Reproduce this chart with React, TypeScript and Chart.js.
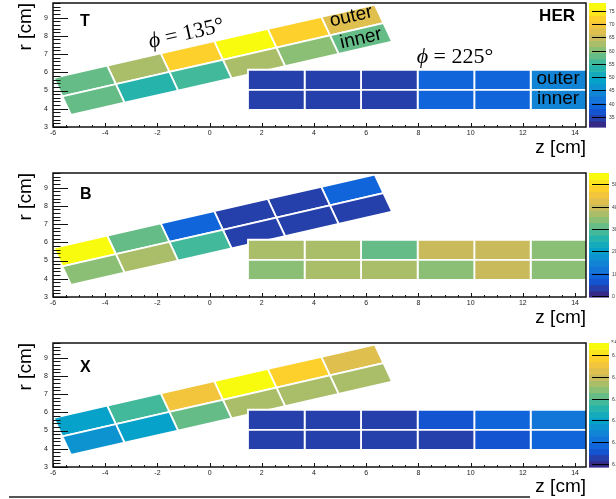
import React, { useEffect, useRef } from 'react';
import { Chart, registerables } from 'chart.js';

Chart.register(...registerables);

// ---------------- data ----------------
const zTickValues = [-6, -4, -2, 0, 2, 4, 6, 8, 10, 12, 14];
const rTickValues = [3, 4, 5, 6, 7, 8, 9];
const zRange = [-6, 14.42];
const rRange = [3, 9.8];

// phi = 225 deg module (horizontal ladder): cell edges in z and r
const flatZEdges = [1.47, 3.64, 5.8, 7.97, 10.14, 12.3, 14.47];
const flatREdges = [3.94, 5.04, 6.14];

// phi = 135 deg module (tilted ladder)
const tiltOrigin = [-5.31, 3.66];
const tiltAngleDeg = 18.1;
const tiltCellLength = 2.157;
const tiltRowWidth = 1.07;

const panelLabels = ['T', 'B', 'X'];

// panel T
const tTiltInner = [58.1, 53.4, 55.8, 62.8, 60.4, 58.0];
const tTiltOuter = [58.1, 62.8, 72.2, 77.0, 72.0, 67.5];
const tFlatInner = [34.7, 34.8, 34.6, 39.4, 39.4, 44.0];
const tFlatOuter = [34.7, 34.6, 34.8, 39.4, 39.3, 44.1];
const tColorRange = [31.2, 78.0];
const tColorTicks = [35, 40, 45, 50, 55, 60, 65, 70, 75];

// panel B
const bTiltInner = [34.2, 37.0, 28.7, 3.8, 3.7, 3.8];
const bTiltOuter = [53.6, 31.5, 9.3, 3.8, 3.7, 9.4];
const bFlatInner = [34.2, 37.0, 37.1, 34.3, 39.8, 34.1];
const bFlatOuter = [37.0, 37.1, 31.4, 39.8, 39.7, 34.2];
const bColorRange = [-0.4, 55.0];
const bColorTicks = [0, 10, 20, 30, 40, 50];

// panel X
const xTiltInner = [6.171, 6.199, 6.313, 6.37, 6.371, 6.369];
const xTiltOuter = [6.199, 6.285, 6.455, 6.541, 6.484, 6.427];
const xFlatInner = [6.029, 6.028, 6.03, 6.029, 6.057, 6.086];
const xFlatOuter = [6.029, 6.028, 6.029, 6.057, 6.086, 6.114];
const xColorRange = [5.986, 6.555];
const xColorTicks = [6.0, 6.1, 6.2, 6.3, 6.4, 6.5];

// ---------------- palette (ROOT kBird) ----------------
const birdStops = [0, 0.125, 0.25, 0.375, 0.5, 0.625, 0.75, 0.875, 1];
const birdR = [0.2082, 0.0592, 0.078, 0.0232, 0.1802, 0.5301, 0.8186, 0.9956, 0.9764];
const birdG = [0.1664, 0.3599, 0.5041, 0.6419, 0.7178, 0.7492, 0.7328, 0.7862, 0.9832];
const birdB = [0.5293, 0.8684, 0.8385, 0.7914, 0.6425, 0.4662, 0.3499, 0.1968, 0.0539];
const N_LEVELS = 20;

function bird(f: number) {
  f = Math.max(0, Math.min(1, f));
  let i = 0;
  while (i < birdStops.length - 2 && f > birdStops[i + 1]) i++;
  const t = (f - birdStops[i]) / (birdStops[i + 1] - birdStops[i]);
  const c = (a: number[]) => Math.round(255 * (a[i] + t * (a[i + 1] - a[i])));
  return `rgb(${c(birdR)},${c(birdG)},${c(birdB)})`;
}
function levelOf(v: number, range: number[]) {
  const l = Math.floor(((v - range[0]) / (range[1] - range[0])) * N_LEVELS);
  return Math.max(0, Math.min(N_LEVELS - 1, l));
}
function levelColor(i: number) {
  return bird(i / (N_LEVELS - 1));
}

const panels = [
  {
    label: panelLabels[0], tiltInner: tTiltInner, tiltOuter: tTiltOuter, flatInner: tFlatInner, flatOuter: tFlatOuter,
    colorRange: tColorRange, colorTicks: tColorTicks, fmt: (v: number) => String(v),
    height: 170, letterBase: 23, barRight: 606, annotate: true, titlePad: 11.2, bottomRule: false, exponent: '',
  },
  {
    label: panelLabels[1], tiltInner: bTiltInner, tiltOuter: bTiltOuter, flatInner: bFlatInner, flatOuter: bFlatOuter,
    colorRange: bColorRange, colorTicks: bColorTicks, fmt: (v: number) => String(v),
    height: 170, letterBase: 26, barRight: 609, annotate: false, titlePad: 11.2, bottomRule: false, exponent: '',
  },
  {
    label: panelLabels[2], tiltInner: xTiltInner, tiltOuter: xTiltOuter, flatInner: xFlatInner, flatOuter: xFlatOuter,
    colorRange: xColorRange, colorTicks: xColorTicks, fmt: (v: number) => v.toFixed(1),
    height: 159, letterBase: 29, barRight: 609, annotate: false, titlePad: 0.6, bottomRule: true, exponent: '\u00d710\u00b3',
  },
];

function cellDataset(points: { x: number; y: number }[], color: string, order: number) {
  return {
    data: points,
    showLine: true,
    fill: 'shape',
    backgroundColor: color,
    borderColor: '#ffffff',
    borderWidth: 1.8,
    pointRadius: 0,
    pointHoverRadius: 0,
    tension: 0,
    order,
  };
}

function buildDatasets(p: any) {
  const ds: any[] = [];
  const rad = (tiltAngleDeg * Math.PI) / 180;
  const u = [Math.cos(rad), Math.sin(rad)];
  const v = [-Math.sin(rad), Math.cos(rad)];
  const at = (a: number, b: number) => ({
    x: tiltOrigin[0] + a * u[0] + b * v[0],
    y: tiltOrigin[1] + a * u[1] + b * v[1],
  });
  [p.tiltInner, p.tiltOuter].forEach((vals: number[], row: number) => {
    vals.forEach((val, k) => {
      const a0 = k * tiltCellLength, a1 = a0 + tiltCellLength;
      const b0 = row * tiltRowWidth, b1 = b0 + tiltRowWidth;
      ds.push(cellDataset([at(a0, b0), at(a1, b0), at(a1, b1), at(a0, b1), at(a0, b0)], levelColor(levelOf(val, p.colorRange)), 1));
    });
  });
  [p.flatInner, p.flatOuter].forEach((vals: number[], row: number) => {
    vals.forEach((val, k) => {
      const z0 = flatZEdges[k], z1 = flatZEdges[k + 1];
      const r0 = flatREdges[row], r1 = flatREdges[row + 1];
      ds.push(cellDataset([{ x: z0, y: r0 }, { x: z1, y: r0 }, { x: z1, y: r1 }, { x: z0, y: r1 }, { x: z0, y: r0 }], levelColor(levelOf(val, p.colorRange)), 0));
    });
  });
  return ds;
}

function makeDecor(p: any) {
  return {
    id: 'decor',
    afterDraw(chart: any) {
      const { ctx, chartArea: a, scales } = chart;
      const xs = scales.x, ys = scales.y;
      ctx.save();
      // frame
      ctx.strokeStyle = '#111';
      ctx.lineWidth = 1.5;
      ctx.strokeRect(a.left, a.top, a.right - a.left, a.bottom - a.top);
      // y ticks (inward)
      ctx.lineWidth = 1;
      ctx.beginPath();
      for (let i = 0; ; i++) {
        const val = rRange[0] + i * 0.2;
        if (val > rRange[1] + 1e-6) break;
        const y = Math.round(ys.getPixelForValue(val)) + 0.5;
        const major = Math.abs(val - Math.round(val)) < 1e-6;
        ctx.moveTo(a.left, y);
        ctx.lineTo(a.left + (major ? 15 : 7.5), y);
      }
      // x ticks (inward)
      for (let i = 0; ; i++) {
        const val = zRange[0] + i * 0.5;
        if (val > zRange[1] + 1e-6) break;
        const x = Math.round(xs.getPixelForValue(val)) + 0.5;
        const major = Math.abs(val / 2 - Math.round(val / 2)) < 1e-6;
        ctx.moveTo(x, a.bottom);
        ctx.lineTo(x, a.bottom - (major ? 4 : 2));
      }
      ctx.stroke();

      // colour bar
      const barL = 589, barR = p.barRight;
      const h = a.bottom - a.top;
      for (let i = 0; i < N_LEVELS; i++) {
        const y0 = a.bottom - (i / N_LEVELS) * h;
        const y1 = a.bottom - ((i + 1) / N_LEVELS) * h;
        ctx.fillStyle = levelColor(i);
        ctx.fillRect(barL, y1, barR - barL, y0 - y1 + 0.6);
      }
      ctx.strokeStyle = '#000';
      ctx.lineWidth = 1;
      ctx.fillStyle = '#333';
      ctx.font = '5px "Liberation Sans"';
      ctx.textBaseline = 'middle';
      ctx.textAlign = 'left';
      const [cmin, cmax] = p.colorRange;
      p.colorTicks.forEach((t: number) => {
        const y = Math.round(a.bottom - ((t - cmin) / (cmax - cmin)) * h) + 0.5;
        ctx.beginPath();
        ctx.moveTo(barL + 3, y);
        ctx.lineTo(barR, y);
        ctx.stroke();
        ctx.fillText(p.fmt(t), barR + 3, y);
      });
      if (p.exponent) {
        ctx.font = '5px "Liberation Sans"';
        ctx.fillText(p.exponent, barR + 2, a.top - 1);
      }

      // panel letter
      ctx.fillStyle = '#000';
      ctx.textBaseline = 'alphabetic';
      ctx.textAlign = 'left';
      ctx.font = 'bold 16px "Liberation Sans"';
      ctx.fillText(p.label, a.left + 27, a.top + p.letterBase);

      if (p.annotate) {
        ctx.font = 'bold 17px "Liberation Sans"';
        ctx.textAlign = 'right';
        ctx.fillText('HER', a.right - 11, a.top + 18);

        const P = (z: number, r: number) => [xs.getPixelForValue(z), ys.getPixelForValue(r)];
        const rad = (tiltAngleDeg * Math.PI) / 180;
        const p0 = P(tiltOrigin[0], tiltOrigin[1]);
        const p1 = P(tiltOrigin[0] + 10 * Math.cos(rad), tiltOrigin[1] + 10 * Math.sin(rad));
        const ang = Math.atan2(p1[1] - p0[1], p1[0] - p0[0]);

        const drawMath = (z: number, r: number, rest: string, rot: number) => {
          const [cx, cy] = P(z, r);
          ctx.save();
          ctx.translate(cx, cy);
          ctx.rotate(rot);
          const fi = 'italic 22px "Liberation Serif", "DejaVu Serif"';
          const fr = '22px "Liberation Serif", "DejaVu Serif"';
          ctx.font = fi;
          const w1 = ctx.measureText('\u03d5').width;
          ctx.font = fr;
          const w2 = ctx.measureText(rest).width;
          const w = w1 + w2;
          ctx.textAlign = 'left';
          ctx.textBaseline = 'alphabetic';
          ctx.font = fi;
          ctx.fillText('\u03d5', -w / 2, 7);
          ctx.font = fr;
          ctx.fillText(rest, -w / 2 + w1, 7);
          ctx.restore();
        };
        drawMath(-0.9, 8.17, ' = 135\u00b0', ang);
        drawMath(9.4, 6.91, ' = 225\u00b0', 0);

        const word = (text: string, z: number, r: number, rot: number) => {
          const [cx, cy] = P(z, r);
          ctx.save();
          ctx.translate(cx, cy);
          ctx.rotate(rot);
          ctx.font = '19px "Liberation Sans"';
          ctx.textAlign = 'center';
          ctx.textBaseline = 'middle';
          ctx.fillStyle = '#000';
          ctx.fillText(text, 0, 0);
          ctx.restore();
        };
        word('outer', 5.42, 9.05, ang);
        word('inner', 5.8, 7.84, ang);
        word('outer', 13.35, 5.64, 0);
        word('inner', 13.35, 4.54, 0);
      }

      if (p.bottomRule) {
        ctx.strokeStyle = '#555';
        ctx.lineWidth = 2;
        ctx.beginPath();
        ctx.moveTo(9, p.height - 2);
        ctx.lineTo(530, p.height - 2);
        ctx.stroke();
      }
      ctx.restore();
    },
  };
}

function Panel({ idx }: { idx: number }) {
  const ref = useRef<HTMLCanvasElement | null>(null);
  const p = panels[idx];
  useEffect(() => {
    const H = p.height;
    const zeroPad = (s: any) => {
      s.paddingLeft = 0;
      s.paddingRight = 0;
      s.paddingTop = 0;
      s.paddingBottom = 0;
    };
    const chart = new Chart(ref.current as HTMLCanvasElement, {
      type: 'scatter',
      data: { datasets: buildDatasets(p) as any },
      plugins: [makeDecor(p)],
      options: {
        responsive: false,
        maintainAspectRatio: false,
        animation: false,
        events: [],
        layout: { padding: { top: 3, right: 30, left: 0, bottom: 0 } },
        plugins: { legend: { display: false }, tooltip: { enabled: false } },
        scales: {
          x: {
            type: 'linear',
            min: zRange[0],
            max: zRange[1],
            afterBuildTicks: (s: any) => {
              s.ticks = zTickValues.map((v) => ({ value: v }));
            },
            afterFit: (s: any) => {
              s.height = H - 127;
              zeroPad(s);
            },
            grid: { display: false, drawTicks: false },
            border: { display: false },
            ticks: { font: { size: 7, family: 'Liberation Sans' }, color: '#222', padding: 2, maxRotation: 0, autoSkip: false },
            title: {
              display: true,
              text: 'z [cm]',
              align: 'end',
              color: '#000',
              font: { size: 19, family: 'Liberation Sans' },
              padding: { top: 0, bottom: p.titlePad },
            },
          },
          y: {
            type: 'linear',
            min: rRange[0],
            max: rRange[1],
            afterBuildTicks: (s: any) => {
              s.ticks = rTickValues.map((v) => ({ value: v }));
            },
            afterFit: (s: any) => {
              s.width = 53;
              zeroPad(s);
            },
            grid: { display: false, drawTicks: false },
            border: { display: false },
            ticks: { font: { size: 7, family: 'Liberation Sans' }, color: '#222', padding: 5 },
            title: {
              display: true,
              text: 'r [cm]',
              align: 'end',
              color: '#000',
              font: { size: 19, family: 'Liberation Sans' },
              padding: { top: 14.6, bottom: 0 },
            },
          },
        },
      } as any,
    });
    return () => chart.destroy();
  }, [idx]);
  return (
    <canvas
      ref={ref}
      width={616}
      height={p.height}
      style={{ display: 'block', width: 616, height: p.height }}
    />
  );
}

export default function App() {
  return (
    <div style={{ position: 'absolute', left: 0, top: 0, width: 616, height: 499, background: '#fff' }}>
      {panels.map((_, i) => (
        <Panel key={i} idx={i} />
      ))}
    </div>
  );
}
